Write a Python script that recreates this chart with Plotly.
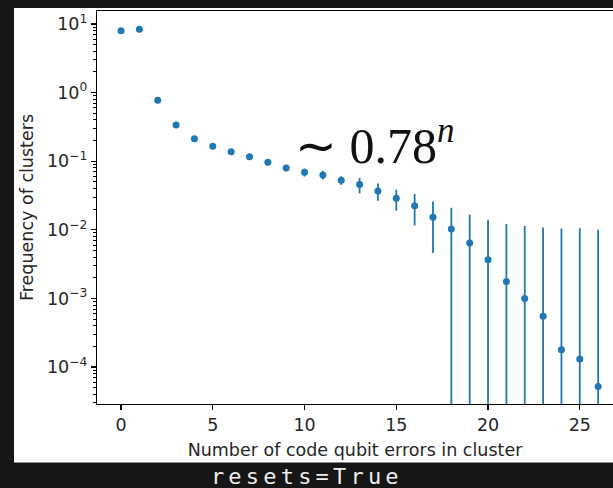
import plotly.graph_objects as go

# ---- data ----
n_errors = list(range(27))
frequency = [8.0, 8.37, 0.773, 0.338, 0.213, 0.165, 0.138, 0.116, 0.0964, 0.0798,
             0.0689, 0.0631, 0.0527, 0.0456, 0.0369, 0.0288, 0.0225, 0.0152, 0.0103,
             0.00645, 0.00365, 0.00177, 0.00100, 0.00055, 0.000179, 0.000131, 0.000052]
freq_err = [0.03, 0.03, 0.01, 0.006, 0.006, 0.006, 0.006, 0.006, 0.006, 0.0085,
            0.0091, 0.0091, 0.0076, 0.0115, 0.0103, 0.0098, 0.0109, 0.0106, 0.0106,
            0.0102, 0.0104, 0.0104, 0.0104, 0.0103, 0.0103, 0.0104, 0.0100]

x_tickvals = [0, 5, 10, 15, 20, 25]
y_tickvals = [1e-4, 1e-3, 1e-2, 1e-1, 1e0, 1e1]
y_ticktext = ["10<sup>\u22124</sup>", "10<sup>\u22123</sup>", "10<sup>\u22122</sup>",
              "10<sup>\u22121</sup>", "10<sup>0</sup>", "10<sup>1</sup>"]
y_minor = [k * 10.0 ** e for e in range(-5, 2) for k in range(2, 10)]

fit_label = "\u223c 0.78<sup><i>n</i></sup>"
x_title = "Number of code qubit errors in cluster"
y_title = "Frequency of clusters"
caption = "resets=True"

BLUE = "#1f77b4"
INK = "#262626"
FONT = "DejaVu Sans"

fig = go.Figure()
fig.add_trace(go.Scatter(
    x=n_errors, y=frequency, mode="markers",
    marker=dict(color=BLUE, size=7),
    error_y=dict(type="data", array=freq_err, symmetric=True,
                 color=BLUE, thickness=1.8, width=0),
    showlegend=False,
))

W, H = 613, 488
L, R, T, B = 97, 0, 11, 84
pw, ph = W - L - R, H - T - B


def px_x(px):
    return (px - L) / pw


def px_y(py):
    return (H - B - py) / ph


fig.update_layout(
    width=W, height=H,
    margin=dict(l=L, r=R, t=T, b=B, pad=0),
    paper_bgcolor="#161616",
    plot_bgcolor="white",
    font=dict(family=FONT, size=17.5, color=INK),
    shapes=[dict(type="rect", xref="paper", yref="paper",
                 x0=px_x(14), x1=px_x(W + 5), y0=px_y(462.5), y1=px_y(8),
                 fillcolor="white", line=dict(width=0), layer="below")],
    annotations=[
        dict(text=fit_label, x=9.39, y=-0.72, xref="x", yref="y",
             xanchor="left", yanchor="middle", showarrow=False,
             font=dict(family="Liberation Serif", size=50, color="#111111")),
        dict(text=caption, x=px_x(307), y=px_y(476), xref="paper", yref="paper",
             xanchor="center", yanchor="middle", showarrow=False,
             font=dict(family="DejaVu Sans Mono", size=22, color="#eeeeee")),
    ],
)

fig.update_xaxes(
    range=[-1.31, 26.81], showgrid=False, zeroline=False,
    showline=True, linecolor="black", linewidth=1.2, mirror=True,
    ticks="outside", ticklen=5, tickwidth=1.2, tickcolor="black",
    tickvals=x_tickvals, automargin=False,
    title=dict(text=x_title, standoff=9, font=dict(size=17.5, color=INK)),
)
fig.update_yaxes(
    type="log", range=[-4.539, 1.19], showgrid=False, zeroline=False,
    showline=True, linecolor="black", linewidth=1.2, mirror=False,
    ticks="outside", ticklen=5, tickwidth=1.2, tickcolor="black",
    tickvals=y_tickvals, ticktext=y_ticktext, automargin=False,
    minor=dict(ticks="outside", ticklen=3, tickwidth=1, tickcolor="black",
               tickvals=y_minor, showgrid=False),
    title=dict(text=y_title, standoff=8, font=dict(size=17.5, color=INK)),
)

post = """
document.body.style.margin = '0';
document.body.style.overflow = 'hidden';
document.querySelectorAll('text.annotation-text').forEach(function(t){
  if (t.textContent === 'resets=True') { t.style.letterSpacing = '4.2px'; }
});
"""
fig.write_html("out.html", post_script=post,
               config={"displayModeBar": False, "staticPlot": True})
